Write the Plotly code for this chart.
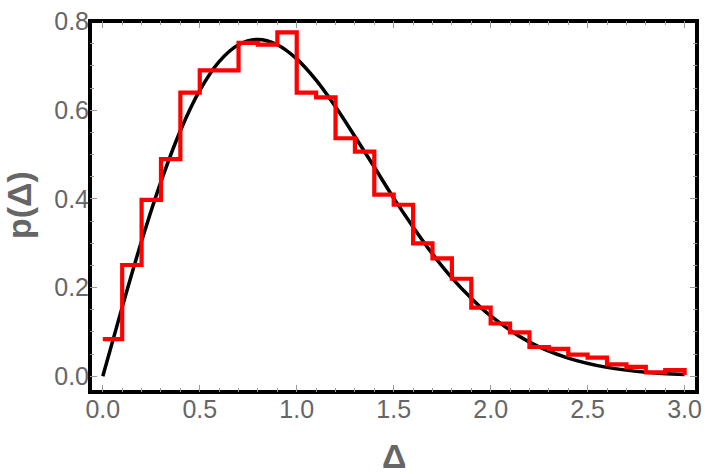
import plotly.graph_objects as go

# Histogram (step) data: left bin edges and heights, plus closing point at 3.0
bin_left = [0.0, 0.1, 0.2, 0.3, 0.4, 0.5, 0.6, 0.7, 0.8, 0.9,
            1.0, 1.1, 1.2, 1.3, 1.4, 1.5, 1.6, 1.7, 1.8, 1.9,
            2.0, 2.1, 2.2, 2.3, 2.4, 2.5, 2.6, 2.7, 2.8, 2.9, 3.0]
bin_height = [0.084, 0.251, 0.398, 0.490, 0.640, 0.690, 0.690, 0.752, 0.748, 0.776,
              0.640, 0.629, 0.537, 0.507, 0.410, 0.387, 0.300, 0.266, 0.220, 0.155,
              0.119, 0.099, 0.066, 0.062, 0.049, 0.042, 0.027, 0.021, 0.009, 0.014, 0.003]

# Smooth curve
curve_x = [0.0, 0.1, 0.2, 0.3, 0.4, 0.5, 0.6, 0.7, 0.8, 0.9, 1.0,
           1.1, 1.2, 1.3, 1.4, 1.5, 1.6, 1.7, 1.8, 1.9, 2.0,
           2.2, 2.4, 2.6, 2.8, 3.0]
curve_y = [0.0, 0.156, 0.305, 0.439, 0.554, 0.645, 0.710, 0.748, 0.760, 0.748, 0.716,
           0.668, 0.608, 0.541, 0.472, 0.402, 0.337, 0.276, 0.222, 0.176, 0.136,
           0.077, 0.041, 0.020, 0.009, 0.004]

x_ticks = [0.0, 0.5, 1.0, 1.5, 2.0, 2.5, 3.0]
x_labels = ["0.0", "0.5", "1.0", "1.5", "2.0", "2.5", "3.0"]
y_ticks = [0.0, 0.2, 0.4, 0.6, 0.8]
y_labels = ["0.0", "0.2", "0.4", "0.6", "0.8"]

GRAY = "#666666"
TICKC = "#9a9a9a"
FONT = "Liberation Sans, Arial, sans-serif"

fig = go.Figure()
fig.add_trace(go.Scatter(x=curve_x, y=curve_y, mode="lines",
                         line=dict(color="black", width=3.5, shape="spline", smoothing=1.0),
                         showlegend=False, hoverinfo="skip"))
fig.add_trace(go.Scatter(x=bin_left, y=bin_height, mode="lines",
                         line=dict(color="#ff0000", width=4.2, shape="hv"),
                         showlegend=False, hoverinfo="skip"))

axis_common = dict(showgrid=False, zeroline=False, showline=False,
                   ticks="inside", ticklen=7, tickwidth=1, tickcolor=TICKC,
                   mirror="ticks",
                   tickfont=dict(family=FONT, size=25, color=GRAY))

fig.update_xaxes(range=[-0.066, 3.064], tickvals=x_ticks, ticktext=x_labels,
                 minor=dict(dtick=0.1, tick0=0, ticks="inside", ticklen=4,
                            tickcolor=TICKC, tickwidth=1),
                 **axis_common)
fig.update_yaxes(range=[-0.0355, 0.8015], tickvals=y_ticks, ticktext=y_labels,
                 minor=dict(dtick=0.05, tick0=0, ticks="inside", ticklen=4,
                            tickcolor=TICKC, tickwidth=1),
                 **axis_common)

fig.add_shape(type="rect", xref="paper", yref="paper", x0=0, x1=1, y0=0, y1=1,
              line=dict(color="black", width=4), layer="below")

fig.add_annotation(text="p(Δ)", xref="paper", yref="paper", x=-0.118, y=0.505,
                   showarrow=False, textangle=-90, xanchor="center", yanchor="middle",
                   font=dict(family=FONT, size=34, color=GRAY, weight="bold"))
fig.add_annotation(text="Δ", xref="paper", yref="paper", x=0.5016, y=-0.172,
                   showarrow=False, xanchor="center", yanchor="middle",
                   font=dict(family=FONT, size=34, color=GRAY, weight="bold"))

fig.update_layout(width=709, height=474,
                  margin=dict(l=89.5, r=7.5, t=15, b=81.5),
                  paper_bgcolor="white", plot_bgcolor="white")

fig.write_html("out.html")
